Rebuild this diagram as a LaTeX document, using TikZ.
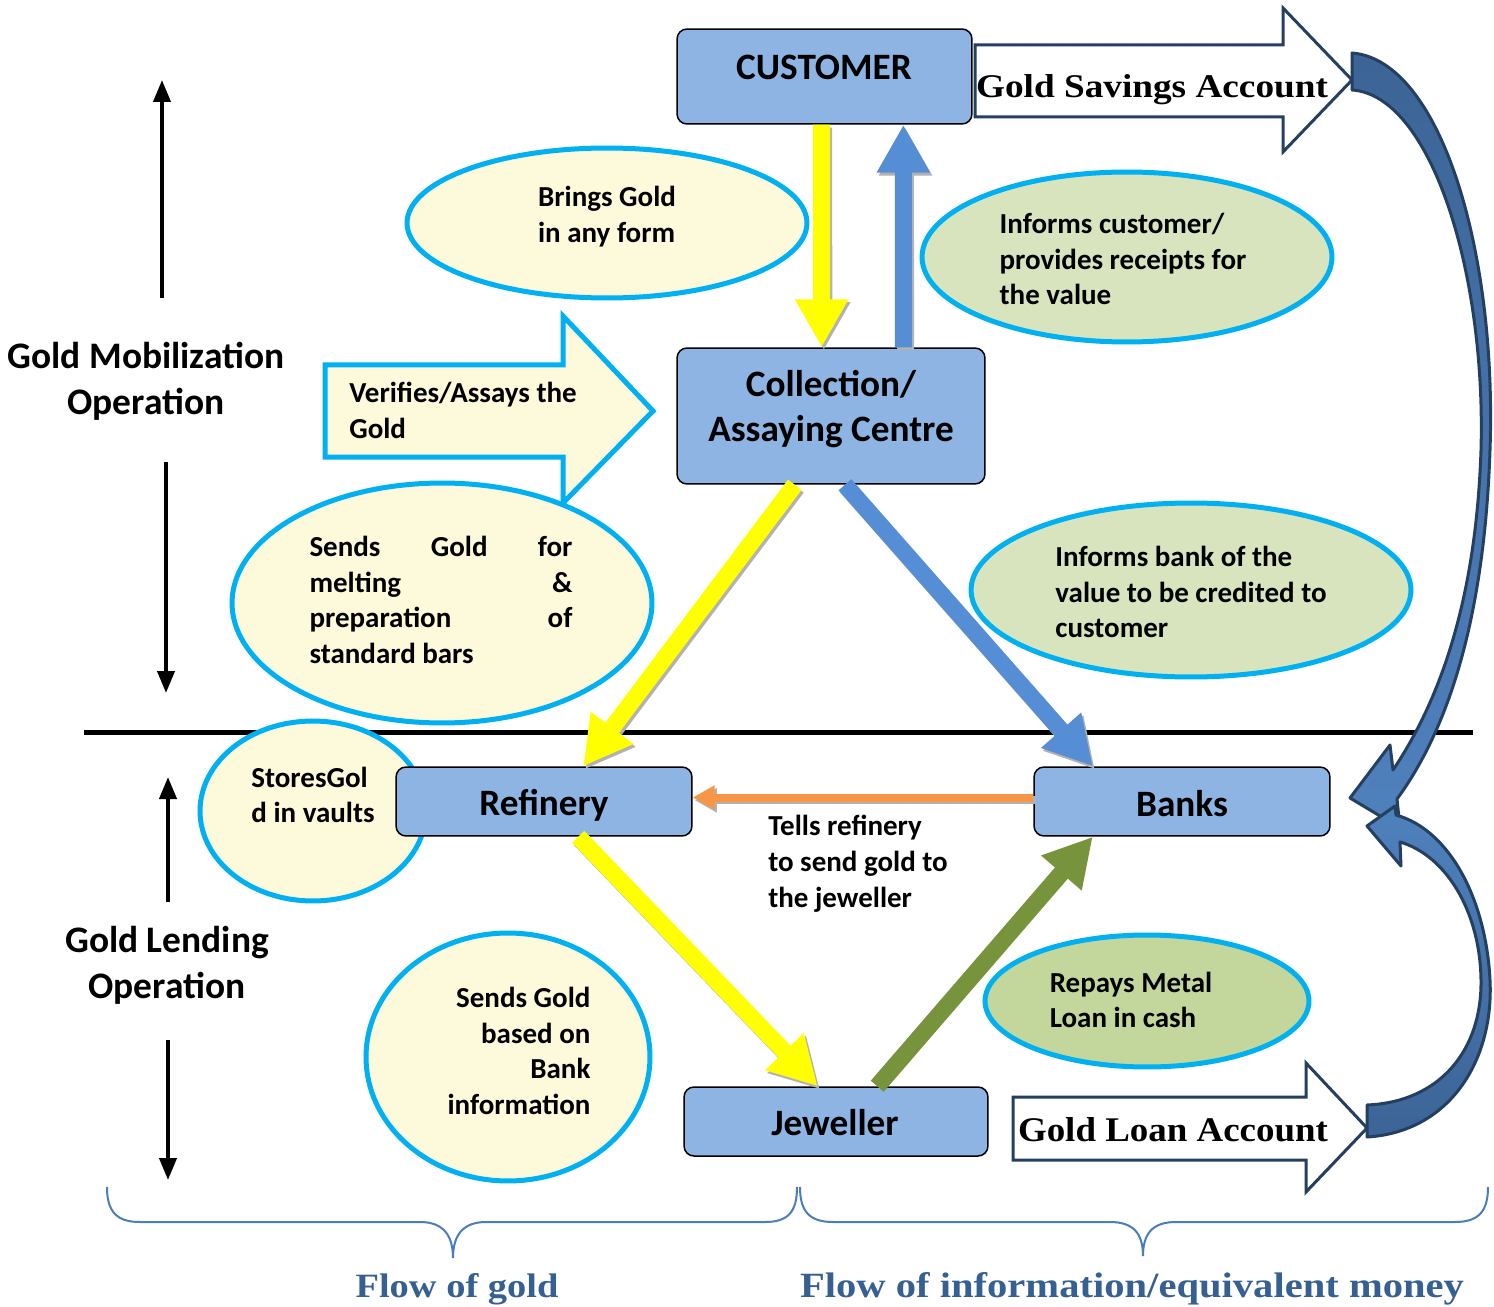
\documentclass[tikz,border=0pt]{standalone}
\usepackage{fontspec}
\setmainfont{Carlito}
\newfontfamily\serifb{Liberation Serif}
\usetikzlibrary{arrows.meta,shapes.geometric,calc}
\definecolor{boxblue}{HTML}{8EB4E3}
\definecolor{cream}{HTML}{FDF9DB}
\definecolor{lgreen}{HTML}{D7E4BD}
\definecolor{mgreen}{HTML}{C3D69B}
\definecolor{cyanb}{HTML}{00B0F0}
\definecolor{navy}{HTML}{243F60}
\definecolor{cblueA}{HTML}{3C6496}
\definecolor{cblueB}{HTML}{4F81BD}
\definecolor{arrowblue}{HTML}{558ED5}
\definecolor{ylw}{HTML}{FFFF00}
\definecolor{orng}{HTML}{F79646}
\definecolor{olive}{HTML}{77933C}
\definecolor{bracec}{HTML}{4A7EBB}
\definecolor{flowtxt}{HTML}{376092}
\tikzset{
 boxnode/.style={draw=black, line width=0.03cm, fill=boxblue, rounded corners=0.2cm, inner sep=0},
 ell/.style={ellipse, draw=cyanb, line width=0.1cm, inner sep=0},
 lbl/.style={font=\fontsize{16.5}{20.4}\selectfont\bfseries, align=left, inner sep=0},
 boxlbl/.style={font=\fontsize{21.2}{26}\selectfont\bfseries, align=center, inner sep=0},
 sidelbl/.style={font=\fontsize{21.3}{26}\selectfont\bfseries, align=center, inner sep=0},
 fatarrow/.style={line width=0.34cm, -{Triangle[length=0.96cm,width=1.0cm]}},
 shad/.style={draw=black!30, transform canvas={xshift=1.2pt,yshift=-1.6pt}},
 sidearrow/.style={line width=0.08cm, -{Triangle[length=0.44cm,width=0.34cm]}},
 blockarr/.style={draw=navy, line width=0.06cm, fill=white, line join=miter},
 bracepath/.style={draw=bracec, line width=0.04cm},
 flowlbl/.style={text=flowtxt, anchor=base, inner sep=0},
 curvearr/.style={draw=navy, line width=0.06cm, line join=round},
}
\begin{document}
\begin{tikzpicture}[x=0.02cm,y=-0.02cm]
\useasboundingbox[fill=white] (0,0) rectangle (1494,1307);

% separator line
\draw[line width=0.1cm] (84,732) -- (1473,732);

% account block arrows
\draw[blockarr] (975,45) -- (1283,45) -- (1283,8) -- (1352,80) -- (1283,152) -- (1283,117) -- (975,117) -- cycle;
\node[inner sep=0, anchor=base] (gsa) at (1152,98) {\resizebox{7.04cm}{0.46cm}{\serifb\bfseries Gold Savings Account}};
\draw[blockarr] (1013,1097) -- (1306,1097) -- (1306,1063) -- (1367,1128) -- (1306,1192) -- (1306,1160) -- (1013,1160) -- cycle;
\node[inner sep=0, anchor=base] (gla) at (1173,1141) {\resizebox{6.2cm}{0.48cm}{\serifb\bfseries Gold Loan Account}};

% curved arrows
\path[curvearr, top color=cblueA, bottom color=cblueB]
 (1352,53) .. controls (1440,60) and (1497,250) .. (1490,450)
 .. controls (1485,600) and (1455,720) .. (1397,799)
 -- (1400,828) -- (1350,798) -- (1390,745) -- (1393,770)
 .. controls (1440,700) and (1476,600) .. (1481,450)
 .. controls (1486,270) and (1430,95) .. (1352,90) -- cycle;
\path[curvearr, top color=cblueB, bottom color=cblueA]
 (1367,1137) .. controls (1450,1132) and (1494,1060) .. (1490,980)
 .. controls (1486,900) and (1450,830) .. (1396,815)
 -- (1395,806) -- (1367,826) -- (1401,866) -- (1400,842)
 .. controls (1445,855) and (1480,910) .. (1481,980)
 .. controls (1482,1050) and (1440,1102) .. (1367,1105) -- cycle;

% verifies arrow
\draw[draw=cyanb, line width=0.1cm, fill=cream, line join=miter]
 (325,365) -- (563,365) -- (563,316) -- (653,411) -- (563,503) -- (563,457) -- (325,457) -- cycle;
\node[lbl] (t9) at (463,410) {Verifies/Assays the\\Gold};

% ellipses
\node[ell, fill=cream, minimum width=8cm, minimum height=3cm] (e1) at (607,223) {};
\node[ell, fill=lgreen, minimum width=8.2cm, minimum height=3.4cm] (e2) at (1127,257) {};
\node[ell, fill=cream, minimum width=8.4cm, minimum height=4.8cm] (e3) at (442,603) {};
\node[ell, fill=lgreen, minimum width=8.8cm, minimum height=3.48cm] (e4) at (1191,590) {};
\node[ell, fill=cream, minimum width=4.52cm, minimum height=3.6cm] (e5) at (313,811) {};
\node[ell, fill=cream, minimum width=5.68cm, minimum height=4.96cm] (e6) at (508,1057) {};
\node[ell, fill=mgreen, minimum width=6.48cm, minimum height=2.64cm] (e7) at (1147,1001) {};

\node[lbl] (t1) at (607,217) {Brings Gold\\in any form};
\node[lbl] (t2) at (1123,259) {Informs customer/\\provides receipts for\\the value};
\node[lbl] (t3) at (441,600) {\makebox[5.26cm][s]{Sends Gold for}\\\makebox[5.26cm][s]{melting \&}\\\makebox[5.26cm][s]{preparation of}\\standard bars};
\node[lbl] (t4) at (1191,592) {Informs bank of the\\value to be credited to\\customer};
\node[lbl] (t5) at (313,795) {StoresGol\\d in vaults};
\node[lbl, align=right] (t6) at (519,1051) {Sends Gold\\based on\\Bank\\information};
\node[lbl] (t7) at (1131,1000) {Repays Metal\\Loan in cash};
\node[lbl] (t8) at (858,864) {Tells refinery\\to send gold to\\the jeweller};

% boxes
\node[boxnode, minimum width=5.9cm, minimum height=1.9cm] (cust) at (824.5,76.5) {};
\node[boxlbl] (custt) at (824,67) {CUSTOMER};
\node[boxnode, minimum width=6.16cm, minimum height=2.72cm] (coll) at (831,416) {};
\node[boxlbl] (collt) at (831,409) {Collection/\\Assaying Centre};
\node[boxnode, minimum width=5.92cm, minimum height=1.38cm] (ref) at (544,801.5) {};
\node[boxlbl] (reft) at (544,805) {Refinery};
\node[boxnode, minimum width=5.92cm, minimum height=1.38cm] (banks) at (1182,801.5) {};
\node[boxlbl] (bankst) at (1182,804) {Banks};
\node[boxnode, minimum width=6.08cm, minimum height=1.38cm] (jew) at (836,1121.5) {};
\node[boxlbl] (jewt) at (835,1123) {Jeweller};

% connector end points
\coordinate (a1s) at ($(cust.south west)!0.49!(cust.south east)$);
\coordinate (a1e) at ($(coll.north west)!0.47!(coll.north east)$);
\coordinate (a2s) at ($(coll.north west)!0.734!(coll.north east)$);
\coordinate (a2e) at ($(cust.south west)!0.766!(cust.south east)$);
\coordinate (a3s) at ($(coll.south west)!0.383!(coll.south east)$);
\coordinate (a3e) at ($(ref.north west)!0.632!(ref.north east)$);
\coordinate (a4s) at ($(coll.south west)!0.545!(coll.south east)$);
\coordinate (a4e) at ($(banks.north west)!0.2!(banks.north east)$);
\coordinate (a5s) at ($(ref.south west)!0.615!(ref.south east)$);
\coordinate (a5e) at ($(jew.north west)!0.44!(jew.north east)$);
\coordinate (a6s) at ($(jew.north west)!0.635!(jew.north east)$);
\coordinate (a6e) at ($(banks.south west)!0.2!(banks.south east)$);

% shadows
\draw[fatarrow, shad] (a1s) -- (a1e);
\draw[fatarrow, shad] (a2s) -- (a2e);
\draw[fatarrow, shad] (a3s) -- (a3e);
\draw[fatarrow, shad] (a4s) -- (a4e);
\draw[fatarrow, shad] (a5s) -- (a5e);
\draw[line width=0.16cm, -{Triangle[length=0.44cm,width=0.46cm]}, shad] ($(banks.west)+(0,-4)$) -- ($(ref.east)+(0,-4)$);
% arrows
\draw[fatarrow, draw=ylw] (a1s) -- (a1e);
\draw[fatarrow, draw=arrowblue] (a2s) -- (a2e);
\draw[fatarrow, draw=ylw] (a3s) -- (a3e);
\draw[fatarrow, draw=arrowblue] (a4s) -- (a4e);
\draw[fatarrow, draw=ylw] (a5s) -- (a5e);
\draw[fatarrow, draw=olive] (a6s) -- (a6e);
\draw[line width=0.16cm, -{Triangle[length=0.44cm,width=0.46cm]}, draw=orng] ($(banks.west)+(0,-4)$) -- ($(ref.east)+(0,-4)$);

% side labels and arrows
\node[sidelbl] (mob) at (146,381) {Gold Mobilization\\Operation};
\node[sidelbl] (lend) at (167,965) {Gold Lending\\Operation};
\coordinate (m1) at (162,298); \coordinate (m2) at (162,80);
\coordinate (m3) at (166,462); \coordinate (m4) at (166,693);
\coordinate (l1) at (168,902); \coordinate (l2) at (168,777);
\coordinate (l3) at (168,1040); \coordinate (l4) at (168,1180);
\draw[sidearrow] (m1) -- (m2);
\draw[sidearrow] (m3) -- (m4);
\draw[sidearrow] (l1) -- (l2);
\draw[sidearrow] (l3) -- (l4);

% braces
\draw[bracepath] (107,1187) .. controls (107,1212) and (117,1222) .. (140,1222) -- (420,1222)
 .. controls (443,1222) and (453,1235) .. (453,1258) .. controls (453,1235) and (463,1222) .. (486,1222)
 -- (765,1222) .. controls (788,1222) and (797,1212) .. (797,1187);
\draw[bracepath] (800,1187) .. controls (800,1212) and (810,1222) .. (833,1222) -- (1110,1222)
 .. controls (1133,1222) and (1143,1233) .. (1143,1256) .. controls (1143,1233) and (1153,1222) .. (1176,1222)
 -- (1455,1222) .. controls (1478,1222) and (1488,1212) .. (1488,1187);
\node[flowlbl] (fg) at (457,1297) {\resizebox{4.06cm}{0.48cm}{\serifb\bfseries Flow of gold}};
\node[flowlbl] (fi) at (1132,1297) {\resizebox{13.28cm}{0.50cm}{\serifb\bfseries Flow of information/equivalent money}};
\end{tikzpicture}
\end{document}
